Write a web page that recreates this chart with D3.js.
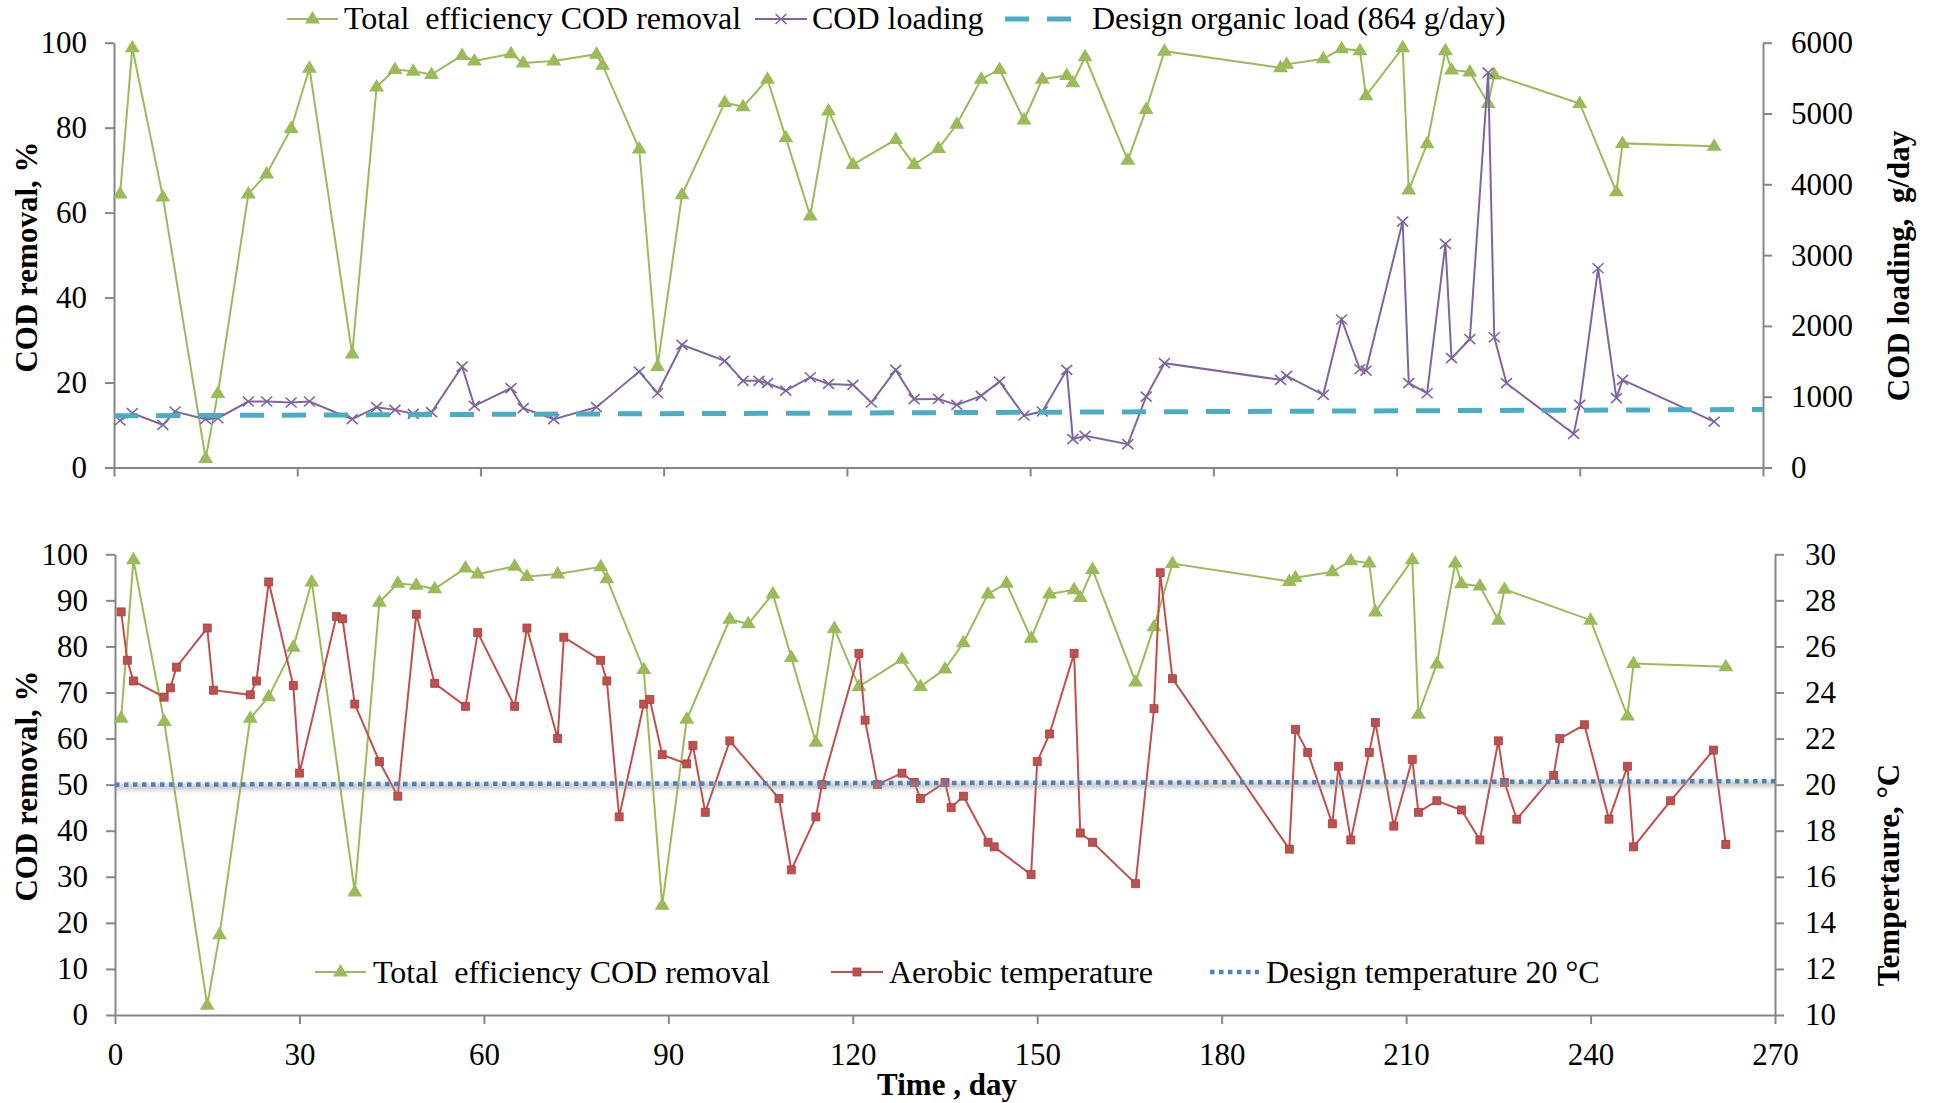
<!DOCTYPE html>
<html>
<head>
<meta charset="utf-8">
<script src="https://cdn.jsdelivr.net/npm/d3@7"></script>
<style>
  body { margin: 0; background: #fff; }
  text { font-family: "Liberation Serif", "Times New Roman", serif; white-space: pre; }
</style>
</head>
<body>
<script>

// ---- data ----

// total COD removal efficiency (%), same series in both panels
var effDays   = [1, 3, 8, 15, 17, 22, 25, 29, 32, 39, 43, 46, 49, 52, 57, 59, 65, 67, 72, 79,
                 80, 86, 89, 93, 100, 103, 107, 110, 114, 117, 121, 128, 131, 135, 138, 142, 145, 149, 152, 156,
                 157, 159, 166, 169, 172, 191, 192, 198, 201, 204, 205, 211, 212, 215, 218, 219, 222, 225, 226, 240,
                 246, 247, 262];
var effValues = [64.4, 98.8, 63.7, 2.1, 17.4, 64.4, 69.1, 79.8, 94.0, 26.7, 89.6, 93.7, 93.3, 92.5, 97.0, 95.7, 97.4, 95.2, 95.7, 97.3,
                 94.7, 75.0, 23.8, 64.2, 85.9, 84.9, 91.4, 77.6, 59.2, 83.9, 71.3, 77.2, 71.3, 75.1, 80.8, 91.4, 93.7, 81.8, 91.4, 92.3,
                 90.6, 96.7, 72.3, 84.3, 98.0, 94.1, 94.9, 96.2, 98.6, 98.1, 87.5, 98.8, 65.3, 76.2, 98.1, 93.6, 93.1, 85.7, 92.4, 85.7,
                 64.9, 76.3, 75.6];

// COD loading (g/day)
var loadDays   = [1, 3, 8, 10, 15, 17, 22, 25, 29, 32, 39, 43, 46, 49, 52, 57, 59, 65, 67, 72,
                  79, 86, 89, 93, 100, 103, 105.6, 107, 110, 114, 117, 121, 124, 128, 131, 135, 138, 142, 145, 149,
                  152, 156, 157, 159, 166, 169, 172, 191, 192, 198, 201, 204, 205, 211, 212, 215, 218, 219, 222, 225,
                  226, 228, 239, 240, 243, 246, 247, 262];
var loadValues = [664, 767, 602, 791, 682, 696, 932, 932, 918, 932, 682, 852, 814, 758, 781, 1426, 871, 1120, 838, 682,
                  852, 1355, 1049, 1732, 1506, 1224, 1224, 1191, 1087, 1275, 1181, 1167, 918, 1379, 965, 969, 885, 1012, 1214, 734,
                  791, 1379, 400, 447, 329, 1002, 1473, 1238, 1294, 1026, 2090, 1388, 1369, 3473, 1191, 1049, 3158, 1544, 1812, 5577,
                  1840, 1191, 475, 885, 2814, 979, 1238, 649];

// design organic load line (g/day), two end points
var designLoadDays   = [0, 270];
var designLoadValues = [730, 820];

// aerobic temperature (degC)
var tempDays   = [1, 2, 3, 8, 9, 10, 15, 16, 22, 23, 25, 29, 30, 36, 37, 39, 43, 46, 49, 52,
                  57, 59, 65, 67, 72, 73, 79, 80, 82, 86, 87, 89, 93, 94, 96, 100, 108, 110, 114, 115,
                  121, 122, 124, 128, 130, 131, 135, 136, 138, 142, 143, 149, 150, 152, 156, 157, 159, 166, 169, 170,
                  172, 191, 192, 194, 198, 199, 201, 204, 205, 208, 211, 212, 215, 219, 222, 225, 226, 228, 234, 235,
                  239, 243, 246, 247, 253, 260, 262];
var tempValues = [27.5, 25.4, 24.5, 23.8, 24.2, 25.1, 26.8, 24.1, 23.9, 24.5, 28.8, 24.3, 20.5, 27.3, 27.2, 23.5, 21.0, 19.5, 27.4, 24.4,
                  23.4, 26.6, 23.4, 26.8, 22.0, 26.4, 25.4, 24.5, 18.6, 23.5, 23.7, 21.3, 20.9, 21.7, 18.8, 21.9, 19.4, 16.3, 18.6, 20.0,
                  25.7, 22.8, 20.0, 20.5, 20.1, 19.4, 20.1, 19.0, 19.5, 17.5, 17.3, 16.1, 21.0, 22.2, 25.7, 17.9, 17.5, 15.7, 23.3, 29.2,
                  24.6, 17.2, 22.4, 21.4, 18.3, 20.8, 17.6, 21.4, 22.7, 18.2, 21.1, 18.8, 19.3, 18.9, 17.6, 21.9, 20.1, 18.5, 20.4, 22.0,
                  22.6, 18.5, 20.8, 17.3, 19.3, 21.5, 17.4];

// design temperature line, two end points
var designTempDays   = [0, 270];
var designTempValues = [20.0, 20.15];

// ticks
var dayTicks       = [0, 30, 60, 90, 120, 150, 180, 210, 240, 270];
var topLeftTicks   = [0, 20, 40, 60, 80, 100];
var topRightTicks  = [0, 1000, 2000, 3000, 4000, 5000, 6000];
var botLeftTicks   = [0, 10, 20, 30, 40, 50, 60, 70, 80, 90, 100];
var botRightTicks  = [10, 12, 14, 16, 18, 20, 22, 24, 26, 28, 30];


// ---- colours ----
var green  = "#9BBB59";
var purple = "#8064A2";
var cyan   = "#4BACC6";
var red    = "#C0504D";
var blue   = "#4F81BD";
var axisGrey = "#868686";
var serif = "Liberation Serif, Times New Roman, serif";

var W = 1939, H = 1103;

var svg = d3.select("body").append("svg")
    .attr("width", W)
    .attr("height", H);

svg.append("rect").attr("width", W).attr("height", H).attr("fill", "#fff");

// soft shadow used under the dotted design-temperature line
var blur = svg.append("defs").append("filter")
    .attr("id", "shadow")
    .attr("x", "-5%").attr("y", "-200%")
    .attr("width", "110%").attr("height", "500%");
blur.append("feGaussianBlur").attr("stdDeviation", 2.2);

// scales
var xTop  = d3.scaleLinear().domain([0, 270]).range([114, 1763]);
var yTop  = d3.scaleLinear().domain([0, 100]).range([467.5, 42.7]);
var yTopR = d3.scaleLinear().domain([0, 6000]).range([467.5, 42.7]);

var xBot  = d3.scaleLinear().domain([0, 270]).range([115, 1775]);
var yBot  = d3.scaleLinear().domain([0, 100]).range([1015, 554.3]);
var yBotR = d3.scaleLinear().domain([10, 30]).range([1015, 554.3]);


function styleAxis(g, size) {
    g.attr("font-family", serif).attr("font-size", size);
    g.select(".domain").attr("stroke", axisGrey).attr("stroke-width", 2);
    g.selectAll(".tick line").attr("stroke", axisGrey).attr("stroke-width", 2);
    g.selectAll(".tick text")
        .attr("fill", "#000")
        .style("font-family", serif)
        .style("font-size", size);
}

// ---- axes ----
// top panel
svg.append("g")
    .attr("transform", "translate(0," + yTop(0) + ")")
    .call(d3.axisBottom(xTop).tickValues(dayTicks).tickFormat("")
        .tickSize(9).tickSizeOuter(0))
    .call(styleAxis, "31px");

svg.append("g")
    .attr("transform", "translate(" + xTop(0) + ",0)")
    .call(d3.axisLeft(yTop).tickValues(topLeftTicks)
        .tickSize(9).tickPadding(18).tickSizeOuter(0))
    .call(styleAxis, "31px");

svg.append("g")
    .attr("transform", "translate(" + xTop(270) + ",0)")
    .call(d3.axisRight(yTopR).tickValues(topRightTicks).tickFormat(d3.format("d"))
        .tickSize(9).tickPadding(19).tickSizeOuter(0))
    .call(styleAxis, "31px");

// bottom panel
svg.append("g")
    .attr("transform", "translate(0," + yBot(0) + ")")
    .call(d3.axisBottom(xBot).tickValues(dayTicks)
        .tickSize(9).tickPadding(19).tickSizeOuter(0))
    .call(styleAxis, "31px");

svg.append("g")
    .attr("transform", "translate(" + xBot(0) + ",0)")
    .call(d3.axisLeft(yBot).tickValues(botLeftTicks)
        .tickSize(9).tickPadding(18).tickSizeOuter(0))
    .call(styleAxis, "31px");

svg.append("g")
    .attr("transform", "translate(" + xBot(270) + ",0)")
    .call(d3.axisRight(yBotR).tickValues(botRightTicks)
        .tickSize(9).tickPadding(21).tickSizeOuter(0))
    .call(styleAxis, "31px");


// ---- axis titles ----
function title(x, y, rot, txt) {
    svg.append("text")
        .attr("transform", "translate(" + x + "," + y + ")" + (rot ? " rotate(" + rot + ")" : ""))
        .attr("text-anchor", "middle")
        .attr("font-weight", "bold")
        .attr("font-size", "31px")
        .attr("fill", "#000")
        .text(txt);
}
title(37, 257, -90, "COD removal, %");
title(1909, 266, -90, "COD loading,  g/day");
title(37, 786, -90, "COD removal, %");
title(1899, 875, -90, "Tempertaure, \u00B0C");
title(947, 1095, 0, "Time , day");


// ---- markers ----
var triPath = "M0,-8L7.5,4.5L-7.5,4.5Z";
var xPath   = "M-5.5,-5L5.5,5M-5.5,5L5.5,-5";

function drawSeries(days, vals, xs, ys, color, marker) {
    var pts = d3.zip(days, vals);
    var line = d3.line().x(function(d) { return xs(d[0]); }).y(function(d) { return ys(d[1]); });
    var g = svg.append("g");
    g.append("path").datum(pts)
        .attr("d", line)
        .attr("fill", "none")
        .attr("stroke", color)
        .attr("stroke-width", 2);
    g.selectAll(".m").data(pts).enter()
        .append("g")
        .attr("transform", function(d) { return "translate(" + xs(d[0]) + "," + ys(d[1]) + ")"; })
        .each(function() { addMarker(d3.select(this), marker, color); });
}

function addMarker(sel, marker, color) {
    if (marker === "tri")
        sel.append("path").attr("d", triPath).attr("fill", color);
    else if (marker === "x")
        sel.append("path").attr("d", xPath).attr("fill", "none")
            .attr("stroke", color).attr("stroke-width", 1.6);
    else if (marker === "sq")
        sel.append("rect").attr("x", -4).attr("y", -4).attr("width", 8).attr("height", 8)
            .attr("fill", color).attr("stroke", "#A8403D").attr("stroke-width", 0.8);
}

function drawDashed(days, vals, xs, ys) {
    var pts = d3.zip(days, vals);
    var line = d3.line().x(function(d) { return xs(d[0]); }).y(function(d) { return ys(d[1]); });
    svg.append("path").datum(pts)
        .attr("d", line)
        .attr("fill", "none")
        .attr("stroke", cyan)
        .attr("stroke-width", 5)
        .attr("stroke-dasharray", "24,18");
}

function drawDotted(days, vals, xs, ys) {
    var pts = d3.zip(days, vals);
    var line = d3.line().x(function(d) { return xs(d[0]); }).y(function(d) { return ys(d[1]); });
    svg.append("path").datum(pts)
        .attr("d", line)
        .attr("transform", "translate(0,2.5)")
        .attr("fill", "none")
        .attr("stroke", "#9a9a9a")
        .attr("stroke-opacity", 0.55)
        .attr("stroke-width", 6)
        .attr("filter", "url(#shadow)");
    svg.append("path").datum(pts)
        .attr("d", line)
        .attr("fill", "none")
        .attr("stroke", blue)
        .attr("stroke-width", 4.5)
        .attr("stroke-dasharray", "4.5,4.5");
}

// top panel series
drawSeries(effDays, effValues, xTop, yTop, green, "tri");
drawSeries(loadDays, loadValues, xTop, yTopR, purple, "x");
drawDashed(designLoadDays, designLoadValues, xTop, yTopR);

// bottom panel series
drawSeries(effDays, effValues, xBot, yBot, green, "tri");
drawSeries(tempDays, tempValues, xBot, yBotR, red, "sq");
drawDotted(designTempDays, designTempValues, xBot, yBotR);


// ---- legends ----
function legendText(x, y, txt) {
    svg.append("text")
        .attr("x", x).attr("y", y)
        .attr("font-size", "32px")
        .attr("fill", "#000")
        .text(txt);
}

function legendLine(x1, x2, y, color, marker) {
    svg.append("line")
        .attr("x1", x1).attr("x2", x2).attr("y1", y).attr("y2", y)
        .attr("stroke", color).attr("stroke-width", 2);
    var g = svg.append("g").attr("transform", "translate(" + (x1 + x2) / 2 + "," + y + ")");
    addMarker(g, marker, color);
}

// top legend
legendLine(287, 338, 19, green, "tri");
legendText(344, 29, "Total  efficiency COD removal");
legendLine(755, 807, 19, purple, "x");
legendText(812, 29, "COD loading");
svg.append("line")
    .attr("x1", 1005).attr("x2", 1071).attr("y1", 19).attr("y2", 19)
    .attr("stroke", cyan).attr("stroke-width", 5).attr("stroke-dasharray", "24,18");
legendText(1092, 29, "Design organic load (864 g/day)");

// bottom legend
legendLine(315, 366, 972, green, "tri");
legendText(373, 983, "Total  efficiency COD removal");
legendLine(831, 883, 972, red, "sq");
legendText(889, 983, "Aerobic temperature");
svg.append("line")
    .attr("x1", 1210).attr("x2", 1259).attr("y1", 974.5).attr("y2", 974.5)
    .attr("stroke", "#9a9a9a").attr("stroke-opacity", 0.55).attr("stroke-width", 6)
    .attr("filter", "url(#shadow)");
svg.append("line")
    .attr("x1", 1210).attr("x2", 1259).attr("y1", 972).attr("y2", 972)
    .attr("stroke", blue).attr("stroke-width", 4.5).attr("stroke-dasharray", "4.5,4.5");
legendText(1266, 983, "Design temperature 20 \u00B0C");

</script>
</body>
</html>
